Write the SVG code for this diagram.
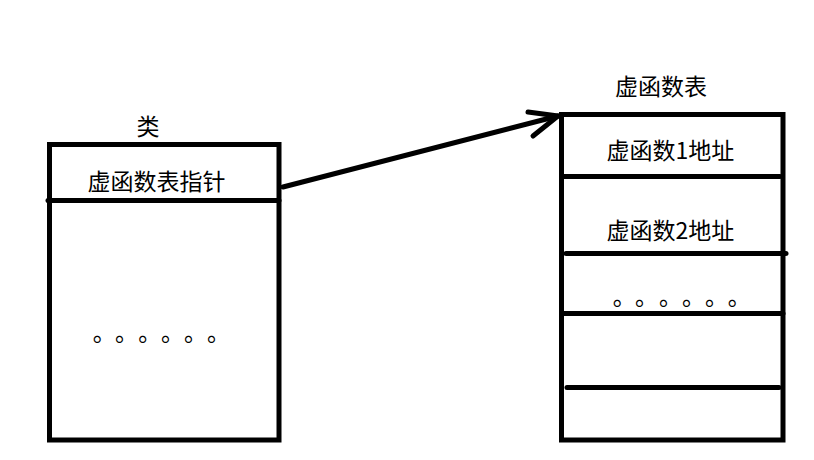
<svg xmlns="http://www.w3.org/2000/svg" width="814" height="460" viewBox="0 0 814 460">
<style>
.t{font-family:"Noto Sans CJK SC","Microsoft YaHei",sans-serif;font-size:23px;fill:#000}
.b{fill:none;stroke:#000;stroke-width:5}
.l{stroke:#000;stroke-width:5;stroke-linecap:round;fill:none}
</style>
<rect width="814" height="460" fill="#fff"/>
<g id="class-node">
<rect class="b" x="49.5" y="144.5" width="229.5" height="295.5"/>
<line class="l" x1="48" y1="200.5" x2="279" y2="200.5"/>
<text class="t" x="148" y="135" text-anchor="middle">类</text>
<text class="t" x="156.5" y="190" text-anchor="middle">虚函数表指针</text>
<text class="t" x="92.7 115 138.3 161 184 207" y="341">。。。。。。</text>
</g>
<g id="vtable-node">
<rect class="b" x="561.5" y="114.5" width="221.5" height="325.5"/>
<line class="l" x1="562" y1="176.5" x2="780" y2="176.5"/>
<line class="l" x1="566" y1="253.5" x2="786" y2="253.5"/>
<line class="l" x1="562" y1="313.5" x2="783" y2="313.5"/>
<line class="l" x1="567" y1="387.5" x2="779" y2="387.5"/>
<text class="t" x="661" y="95" text-anchor="middle">虚函数表</text>
<text class="t" x="670.5" y="159" text-anchor="middle">虚函数1地址</text>
<text class="t" x="670.5" y="239" text-anchor="middle">虚函数2地址</text>
<text class="t" x="612.7 635 659 682 705 727.7" y="304.5">。。。。。。</text>
</g>
<g id="connectors">
<path class="l" d="M283 187 L558 116"/>
<path class="l" d="M528 112 L558 116 L533 136"/>
</g>
</svg>
